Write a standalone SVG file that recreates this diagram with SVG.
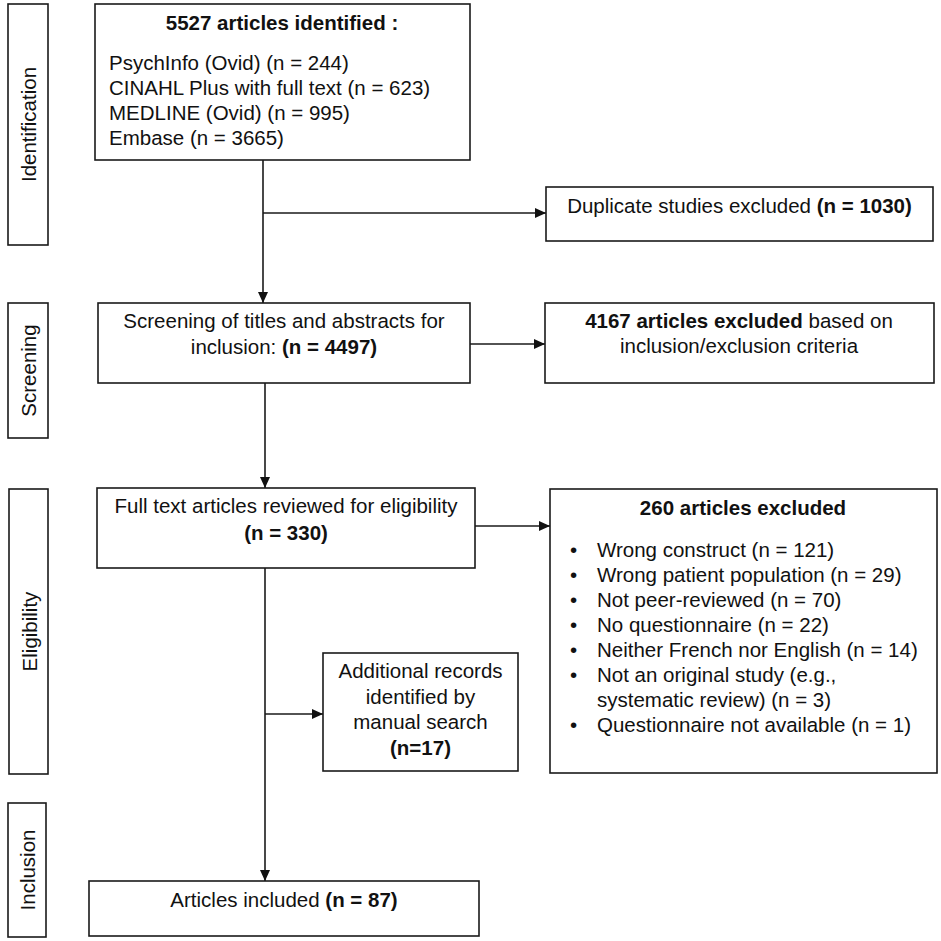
<svg xmlns="http://www.w3.org/2000/svg" width="941" height="941" viewBox="0 0 941 941">
<defs>
<style>
.box{fill:#fff;stroke:#1a1a1a;stroke-width:1.6}
.t{font-family:"Liberation Sans",Arial,sans-serif;font-size:20.5px;fill:#111}
.c{text-anchor:middle}
.b{font-weight:bold}
.ln{fill:none;stroke:#1a1a1a;stroke-width:1.6}
</style>
<marker id="ah" markerUnits="userSpaceOnUse" markerWidth="12" markerHeight="10" refX="11" refY="5" orient="auto">
<path d="M0,0 L11,5 L0,10 z" fill="#111"/>
</marker>
</defs>
<rect width="941" height="941" fill="#fff"/>

<g id="phase-identification">
<rect class="box" x="8" y="4" width="40" height="241"/>
<text class="t c" transform="translate(28,124.5) rotate(-90)" y="8">Identification</text>
</g>
<g id="phase-screening">
<rect class="box" x="8" y="303" width="40" height="135"/>
<text class="t c" transform="translate(28,370.5) rotate(-90)" y="8">Screening</text>
</g>
<g id="phase-eligibility">
<rect class="box" x="9" y="489" width="39" height="285"/>
<text class="t c" transform="translate(28.5,631.5) rotate(-90)" y="8">Eligibility</text>
</g>
<g id="phase-inclusion">
<rect class="box" x="8" y="803" width="38" height="134"/>
<text class="t c" transform="translate(27,870) rotate(-90)" y="8">Inclusion</text>
</g>

<g id="connectors">
<line class="ln" x1="263" y1="160" x2="263" y2="303" marker-end="url(#ah)"/>
<line class="ln" x1="263" y1="213" x2="546" y2="213" marker-end="url(#ah)"/>
<line class="ln" x1="265" y1="383" x2="265" y2="488" marker-end="url(#ah)"/>
<line class="ln" x1="470" y1="344" x2="545" y2="344" marker-end="url(#ah)"/>
<line class="ln" x1="475" y1="526" x2="550" y2="526" marker-end="url(#ah)"/>
<line class="ln" x1="265" y1="568" x2="265" y2="881" marker-end="url(#ah)"/>
<line class="ln" x1="265" y1="714" x2="323" y2="714" marker-end="url(#ah)"/>
</g>

<g id="identified">
<rect class="box" x="95" y="4" width="375" height="156"/>
<text class="t c b" x="282" y="30">5527 articles identified :</text>
<text class="t" x="109" y="70">PsychInfo (Ovid) (n = 244)</text>
<text class="t" x="109" y="95">CINAHL Plus with full text (n = 623)</text>
<text class="t" x="109" y="120">MEDLINE (Ovid) (n = 995)</text>
<text class="t" x="109" y="145">Embase (n = 3665)</text>
</g>

<g id="duplicates">
<rect class="box" x="546" y="187" width="387" height="54"/>
<text class="t c" x="739.5" y="213">Duplicate studies excluded <tspan class="b">(n = 1030)</tspan></text>
</g>

<g id="screening">
<rect class="box" x="98" y="303" width="372" height="80"/>
<text class="t c" x="284" y="328">Screening of titles and abstracts for</text>
<text class="t c" x="284" y="354">inclusion: <tspan class="b">(n = 4497)</tspan></text>
</g>

<g id="excluded-4167">
<rect class="box" x="545" y="303" width="389" height="80"/>
<text class="t c" x="739" y="328"><tspan class="b">4167 articles excluded</tspan> based on</text>
<text class="t c" x="739" y="353">inclusion/exclusion criteria</text>
</g>

<g id="fulltext">
<rect class="box" x="97" y="488" width="378" height="80"/>
<text class="t c" x="286" y="513">Full text articles reviewed for eligibility</text>
<text class="t c b" x="286" y="540">(n = 330)</text>
</g>

<g id="excluded-260">
<rect class="box" x="550" y="489" width="387" height="284"/>
<text class="t c b" x="743" y="515">260 articles excluded</text>
<g class="t">
<text x="570" y="557">•</text><text x="597" y="557">Wrong construct (n = 121)</text>
<text x="570" y="582">•</text><text x="597" y="582">Wrong patient population (n = 29)</text>
<text x="570" y="607">•</text><text x="597" y="607">Not peer-reviewed (n = 70)</text>
<text x="570" y="632">•</text><text x="597" y="632">No questionnaire (n = 22)</text>
<text x="570" y="657">•</text><text x="597" y="657">Neither French nor English (n = 14)</text>
<text x="570" y="682">•</text><text x="597" y="682">Not an original study (e.g.,</text>
<text x="597" y="707">systematic review) (n = 3)</text>
<text x="570" y="732">•</text><text x="597" y="732">Questionnaire not available (n = 1)</text>
</g>
</g>

<g id="additional">
<rect class="box" x="323" y="653" width="195" height="118"/>
<text class="t c" x="420.5" y="678">Additional records</text>
<text class="t c" x="420.5" y="704">identified by</text>
<text class="t c" x="420.5" y="729">manual search</text>
<text class="t c b" x="420.5" y="755">(n=17)</text>
</g>

<g id="included">
<rect class="box" x="89" y="881" width="390" height="55"/>
<text class="t c" x="284" y="907">Articles included <tspan class="b">(n = 87)</tspan></text>
</g>
</svg>
